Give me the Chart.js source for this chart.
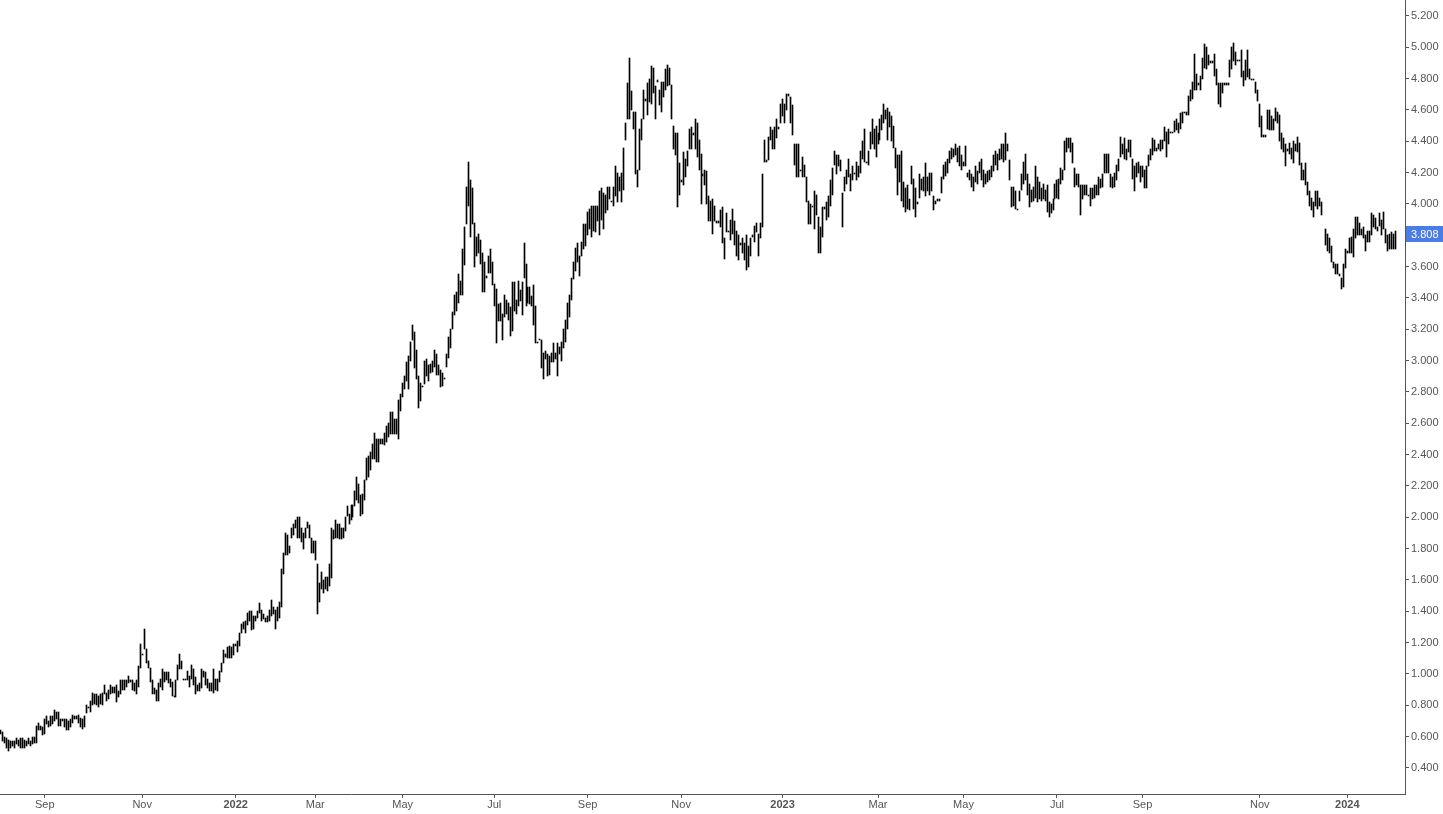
<!DOCTYPE html>
<html>
<head>
<meta charset="utf-8">
<script src="https://cdn.jsdelivr.net/npm/chart.js@4.4.0/dist/chart.umd.min.js"></script>
<style>
  html, body { margin: 0; padding: 0; background: #fff; }
  #wrap { width: 1443px; height: 814px; }
</style>
</head>
<body>
<div id="wrap"><canvas id="priceChart" width="1443" height="814"></canvas></div>
<script>
        // Daily [low, high] ranges, Aug 2021 - Feb 2024 (null = missing session)
        const priceRanges = [
            [0.62,0.64],[0.57,0.63],[0.56,0.60],[0.53,0.59],[0.51,0.58],[0.53,0.57],[0.54,0.57],[0.53,0.57],[0.55,0.59],[0.54,0.58],
            [0.53,0.59],[0.53,0.59],[0.53,0.58],[0.54,0.57],[0.55,0.59],[0.54,0.57],[0.55,0.60],[0.56,0.60],[0.56,0.67],[0.64,0.69],
            [0.64,0.67],[0.61,0.66],[0.62,0.71],[0.68,0.73],[0.66,0.70],[0.67,0.73],[0.68,0.73],[0.70,0.77],[0.71,0.76],[0.67,0.76],
            [0.67,0.71],[0.70,0.71],[0.66,0.71],[0.64,0.71],[0.64,0.70],[0.66,0.71],[0.69,0.74],[0.71,0.73],[0.71,0.73],[0.69,0.74],
            [0.66,0.72],[0.65,0.71],[0.66,0.73],[0.75,0.80],[0.78,0.79],[0.76,0.83],[0.80,0.88],[0.81,0.87],[0.80,0.87],[0.79,0.86],
            [0.81,0.87],[0.80,0.88],[0.87,0.93],[0.83,0.88],[0.84,0.90],[0.87,0.93],[0.88,0.92],[0.88,0.92],[0.82,0.93],[0.85,0.89],
            [0.87,0.96],[0.90,0.96],[0.90,0.96],[0.92,0.96],[0.94,0.99],[0.95,0.96],[0.90,0.96],[0.89,0.94],[0.87,0.96],[0.92,1.05],
            [1.04,1.19],[1.12,1.13],[1.16,1.29],[1.07,1.16],[1.04,1.08],[0.95,1.04],[0.87,0.96],[0.87,0.91],[0.83,0.90],[0.83,0.94],
            [0.92,0.97],[0.90,1.03],[0.95,1.01],[0.96,1.01],[0.94,1.01],[0.92,0.97],[0.86,0.95],[0.85,0.86],[0.85,0.96],[0.96,1.06],
            [1.03,1.13],[1.03,1.08],[0.96,0.97],[0.96,0.97],[0.96,1.02],[0.92,0.99],[0.97,1.06],[0.93,1.03],[0.87,0.98],[0.89,0.93],
            [0.89,0.94],[0.91,1.03],[0.98,1.02],[0.93,1.01],[0.91,0.97],[0.89,0.94],[0.89,0.94],[0.88,1.03],[0.90,0.97],[0.89,0.97],
            [0.95,1.02],[1.01,1.07],[1.07,1.15],[1.11,1.13],[1.10,1.17],[1.10,1.18],[1.10,1.17],[1.12,1.19],[1.18,1.19],[1.14,1.21],
            [1.18,1.26],[1.26,1.32],[1.29,1.33],[1.26,1.34],[1.31,1.39],[1.34,1.40],[1.28,1.40],[1.29,1.37],[1.34,1.37],[1.36,1.40],
            [1.39,1.45],[1.34,1.41],[1.35,1.38],[1.33,1.36],[1.33,1.37],[1.34,1.41],[1.37,1.47],[1.38,1.43],[1.29,1.41],[1.34,1.43],
            [1.36,1.46],
            [1.43,1.67],[1.64,1.77],[1.76,1.90],[1.76,1.89],[1.77,1.82],[1.87,1.93],[1.89,1.96],[1.93,1.98],[1.87,2.00],[1.87,2.00],
            [1.84,1.93],[1.80,1.90],[1.87,1.93],[1.93,1.97],[1.87,1.95],[1.77,1.87],[1.77,1.85],[1.73,1.85],[1.38,1.70],[1.46,1.58],
            [1.54,1.65],[1.52,1.60],[1.54,1.62],[1.53,1.62],[1.56,1.70],[1.61,1.93],[1.86,1.92],[1.87,1.98],[1.87,1.96],[1.86,1.96],
            [1.86,1.93],[1.87,1.93],[1.91,2.00],[2.01,2.07],[1.96,2.02],[1.98,2.08],[2.00,2.08],[2.07,2.17],[2.11,2.26],[2.09,2.21],
            [2.01,2.14],[2.02,2.15],[2.11,2.24],[2.24,2.38],[2.26,2.39],[2.30,2.42],[2.37,2.47],[2.37,2.54],[2.35,2.50],[2.35,2.50],
            [2.47,2.50],[2.47,2.50],[2.46,2.54],[2.48,2.58],[2.51,2.60],[2.53,2.67],[2.53,2.67],[2.53,2.63],[2.53,2.63],[2.50,2.75],
            [2.68,2.79],[2.77,2.86],[2.82,2.90],[2.87,2.99],[2.82,3.03],[3.00,3.12],[3.13,3.23],[2.95,3.18],[2.88,3.07],[2.70,2.90],
            [2.74,2.86],[2.83,2.84],[2.85,3.00],[2.90,3.01],[2.87,2.97],[2.92,2.98],[2.93,3.00],[2.96,3.07],[2.91,3.04],[2.91,2.97],
            [2.83,2.94],[2.84,2.92],[2.88,2.89],[2.96,3.04],[3.02,3.15],[3.08,3.20],[3.20,3.31],[3.29,3.42],[3.32,3.44],[3.37,3.55],
            [3.42,3.51],[3.42,3.71],[3.61,3.85],[3.87,4.11],[3.99,4.27],[3.79,4.15],[3.87,4.10],[3.60,3.88],[3.67,3.79],[3.69,3.81],
            [3.62,3.77],[3.44,3.69],[3.44,3.63],[3.53,3.54],[3.56,3.67],[3.56,3.71],[3.48,3.63],[3.35,3.49],[3.11,3.46],[3.25,3.36],
            [3.25,3.37],[3.13,3.30],[3.28,3.42],[3.30,3.39],[3.26,3.37],[3.16,3.34],[3.19,3.50],[3.32,3.50],[3.30,3.39],[3.35,3.51],
            [3.38,3.45],[3.29,3.50],[3.53,3.75],[3.35,3.62],[3.37,3.47],[3.36,3.47],[3.35,3.41],[3.23,3.48],[3.11,3.35],[3.11,3.12],
            [3.13,3.14],[2.95,3.13],[2.88,3.05],[3.01,3.06],[2.90,3.04],[2.91,3.03],[2.99,3.05],[2.99,3.11],[3.01,3.05],[2.90,3.11],
            [3.04,3.09],
            [3.00,3.12],[3.08,3.20],[3.12,3.26],[3.20,3.37],[3.28,3.42],
            [3.39,3.53],[3.52,3.63],[3.57,3.72],[3.63,3.75],[3.54,3.67],[3.67,3.76],[3.71,3.87],[3.73,3.87],[3.80,3.95],[3.84,3.97],
            [3.79,3.99],[3.83,3.99],[3.82,3.99],[3.89,3.99],[3.80,4.08],[3.90,4.10],[3.84,4.07],[3.94,4.06],[3.96,4.11],[4.03,4.11],
            [4.01,4.02],[3.99,4.11],[4.05,4.24],[4.01,4.20],[4.08,4.17],[4.01,4.20],[4.09,4.36],
            [4.41,4.52],[4.54,4.77],[4.54,4.93],[4.60,4.72],[4.48,4.59],[4.19,4.59],[4.11,4.22],[4.22,4.48],[4.41,4.54],[4.54,4.73],
            [4.66,4.67],[4.57,4.77],[4.65,4.80],[4.64,4.88],[4.71,4.87],[4.54,4.75],[4.78,4.79],[4.63,4.73],[4.59,4.78],[4.68,4.78],
            [4.73,4.86],[4.75,4.89],[4.76,4.87],[4.54,4.76],[4.35,4.50],[4.31,4.45],[3.98,4.45],[4.06,4.26],[4.14,4.15],[4.12,4.33],
            [4.17,4.29],[4.24,4.34],[4.35,4.48],[4.35,4.49],[4.44,4.45],[4.35,4.54],[4.30,4.52],[4.22,4.41],[4.00,4.32],
            [4.18,4.19],[4.12,4.22],[4.00,4.21],[3.89,4.05],[3.89,4.02],[3.81,4.03],[3.89,3.99],[3.88,3.89],[3.88,3.89],[3.85,3.96],
            [3.75,3.98],[3.65,3.78],[3.82,3.94],[3.82,3.83],[3.77,3.90],[3.81,3.97],[3.74,3.89],[3.67,3.83],[3.64,3.80],[3.74,3.75],
            [3.69,3.78],[3.64,3.75],[3.58,3.80],[3.60,3.73],[3.67,3.78],[3.79,3.80],[3.76,3.86],[3.82,3.88],[3.67,3.81],[3.78,3.88],
            [3.85,4.19],[4.27,4.41],[4.27,4.28],[4.28,4.43],[4.41,4.49],[4.35,4.47],[4.35,4.49],[4.42,4.54],[4.48,4.49],[4.52,4.64],
            [4.56,4.67],[4.52,4.64],[4.60,4.70],[4.69,4.70],[4.52,4.68],[4.44,4.63],[4.25,4.38],[4.17,4.38],[4.17,4.38],[4.21,4.22],
            [4.17,4.30],[4.17,4.25],[4.01,4.17],[3.87,4.02],[3.87,4.00],[3.98,3.99],[3.84,4.08],[3.93,4.06],[3.69,3.92],[3.69,3.85],
            [3.79,3.98],[3.97,3.98],[3.90,4.01],[3.92,4.05],[3.99,4.15],[4.06,4.23],[4.25,4.34],[4.19,4.31],[4.24,4.31],[4.21,4.28],
            [3.85,4.07],
            [4.08,4.17],[4.13,4.22],[4.17,4.29],[4.08,4.19],[4.15,4.24],[4.19,4.20],[4.15,4.27],[4.17,4.24],[4.20,4.34],[4.29,4.40],
            [4.27,4.48],[4.26,4.27],[4.25,4.34],[4.35,4.46],[4.38,4.54],[4.35,4.48],[4.30,4.50],[4.38,4.45],[4.41,4.54],[4.47,4.57],
            [4.52,4.64],[4.54,4.60],[4.41,4.61],[4.49,4.59],[4.40,4.56],[4.36,4.50],[4.23,4.36],[4.06,4.31],[4.14,4.31],[4.02,4.34],
            [3.98,4.14],[3.95,4.10],[3.97,4.12],[3.96,4.03],[4.13,4.24],[3.97,4.16],[3.92,4.10],[4.00,4.01],[4.04,4.19],[4.09,4.16],
            [4.08,4.17],[4.05,4.26],[4.08,4.17],[4.06,4.20],[4.08,4.20],[3.96,4.05],[4.00,4.02],[4.02,4.03],[4.02,4.03],[4.07,4.17],
            [4.16,4.25],[4.18,4.27],[4.20,4.29],[4.26,4.34],[4.29,4.36],[4.30,4.35],[4.31,4.38],[4.27,4.36],[4.24,4.37],[4.22,4.31],
            [4.24,4.27],[4.24,4.37],[4.17,4.20],[4.15,4.22],[4.11,4.19],[4.08,4.17],[4.14,4.24],[4.13,4.21],[4.20,4.27],[4.15,4.29],
            [4.11,4.22],[4.13,4.19],[4.14,4.21],[4.15,4.22],[4.17,4.24],[4.21,4.31],[4.25,4.34],[4.22,4.32],[4.28,4.35],[4.29,4.38],
            [4.27,4.38],[4.28,4.45],[4.34,4.38],[4.15,4.28],[3.98,4.11],[3.99,4.11],[3.97,4.08],[3.96,3.97],[4.02,4.08],[4.09,4.19],
            [4.13,4.27],[4.15,4.32],[4.06,4.19],[3.98,4.13],[4.01,4.09],[4.02,4.11],[4.04,4.24],[4.01,4.17],[4.03,4.14],[4.02,4.10],
            [4.03,4.13],[4.02,4.09],[3.95,4.12],[3.92,4.01],[3.94,4.00],[3.96,4.03],[4.03,4.13],[4.04,4.15],[4.03,4.16],[4.13,4.23],
            [4.15,4.22],[4.22,4.40],[4.33,4.42],[4.36,4.42],[4.33,4.42],[4.26,4.39],[4.11,4.23],[4.12,4.19],[4.11,4.19],[3.93,4.12],
            [4.03,4.12],[4.06,4.12],[4.06,4.12],[4.05,4.06],[3.99,4.10],[4.03,4.10],[4.04,4.12],[4.06,4.12],[4.06,4.17],[4.10,4.16],
            [4.11,4.19],[4.20,4.32],[4.20,4.32],[4.20,4.32],[4.11,4.19],[4.10,4.17],[4.11,4.20],[4.15,4.25],[4.21,4.29],[4.30,4.43],
            [4.32,4.38],[4.29,4.42],[4.28,4.35],[4.33,4.41],[4.30,4.41],[4.16,4.29],[4.08,4.24],[4.17,4.26],[4.20,4.27],[4.14,4.24],
            [4.17,4.24],[4.10,4.22],[4.10,4.24],[4.24,4.31],[4.28,4.35],[4.31,4.42],[4.34,4.41],[4.34,4.36],[4.35,4.38],[4.34,4.41],
            [4.35,4.41],[4.40,4.49],[4.30,4.46],[4.38,4.48],[4.45,4.46],[4.45,4.46],[4.46,4.53],[4.47,4.54],[4.45,4.52],[4.48,4.58],
            [4.52,4.59],[4.58,4.59],[4.57,4.59],[4.57,4.69],[4.66,4.73],[4.67,4.78],[4.73,4.96],[4.73,4.83],[4.76,4.77],[4.73,4.82],
            [4.80,4.93],[4.87,5.02],[4.86,5.00],[4.89,4.95],[4.90,4.91],[4.90,4.91],[4.82,4.96],[4.76,4.86],[4.64,4.77],[4.62,4.77],
            [4.71,4.77],[4.76,4.77],[4.76,4.77],[4.76,4.77],[4.81,4.92],[4.86,5.00],[4.91,5.03],[4.89,4.97],[4.91,4.92],[4.91,4.92],
            [4.81,4.98],[4.75,4.85],[4.79,4.92],[4.81,4.98],[4.80,4.86],[4.79,4.80],[4.79,4.80],[4.71,4.78],[4.66,4.73],[4.49,4.64],
            [4.43,4.56],[4.43,4.44],[4.43,4.44],[4.48,4.60],[4.47,4.60],[4.47,4.56],[4.47,4.54],[4.53,4.61],[4.52,4.59],[4.40,4.57],
            [4.35,4.45],[4.33,4.42],[4.24,4.38],[4.34,4.35],[4.32,4.39],[4.29,4.36],[4.26,4.40],[4.34,4.38],[4.33,4.43],[4.25,4.39],
            [4.15,4.26],[4.15,4.22],[4.12,4.26],[4.06,4.14],[3.99,4.08],[3.96,4.04],[3.92,4.01],[3.99,4.08],[3.97,4.08],[3.99,4.04],
            [3.93,4.01],null,[3.74,3.84],[3.70,3.81],[3.69,3.78],[3.63,3.73],[3.59,3.63],[3.55,3.62],[3.55,3.62],[3.54,3.55],
            [3.46,3.53],[3.47,3.62],[3.59,3.71],[3.69,3.70],[3.69,3.78],[3.69,3.79],[3.66,3.84],[3.78,3.92],[3.80,3.92],[3.80,3.88],
            [3.80,3.84],[3.78,3.85],[3.70,3.80],[3.76,3.83],[3.76,3.83],[3.80,3.94],[3.85,3.93],[3.84,3.91],[3.83,3.85],[3.86,3.94],
            [3.80,3.90],[3.84,3.95],[3.75,3.84],[3.70,3.80],[3.71,3.81],[3.71,3.82],[3.71,3.81],[3.71,3.83]
        ];

        const yTicks = [0.4, 0.6, 0.8, 1.0, 1.2, 1.4, 1.6, 1.8, 2.0, 2.2, 2.4, 2.6, 2.8, 3.0,
                        3.2, 3.4, 3.6, 3.8, 4.0, 4.2, 4.4, 4.6, 4.8, 5.0, 5.2];
        const monthTickIndex = [22, 71, 118, 158, 202, 248, 295, 342, 393, 441, 484, 531, 574, 633, 677];
        const monthTickText = ['Sep', 'Nov', '2022', 'Mar', 'May', 'Jul', 'Sep', 'Nov', '2023', 'Mar', 'May', 'Jul', 'Sep', 'Nov', '2024'];
        const lastPrice = 3.808;

        const FONT = '"Liberation Sans", Arial, sans-serif';
        const AXIS_COLOR = '#555';

        // Snap each 1px bar onto whole pixels so it stays crisp black
        const pixelSnap = {
            id: 'pixelSnap',
            beforeDatasetsDraw(chart) {
                chart.getDatasetMeta(0).data.forEach(bar => {
                    if (bar.skip || isNaN(bar.y)) return;
                    const top = Math.round(Math.min(bar.y, bar.base));
                    let bottom = Math.round(Math.max(bar.y, bar.base));
                    if (bottom - top < 1) bottom = top + 1;
                    bar.x = Math.floor(bar.x) + 0.5;
                    bar.y = top;
                    bar.base = bottom;
                });
            }
        };

        // Blue last-price tag on the right axis
        const lastPriceTag = {
            id: 'lastPriceTag',
            afterDraw(chart) {
                const { ctx, chartArea, scales } = chart;
                const y = Math.round(scales.y.getPixelForValue(lastPrice));
                ctx.save();
                ctx.fillStyle = '#4a7ce6';
                ctx.fillRect(chartArea.right + 1, y - 8, chart.width - chartArea.right - 1, 16);
                ctx.fillStyle = '#ffffff';
                ctx.font = '11px ' + FONT;
                ctx.textBaseline = 'middle';
                ctx.fillText(lastPrice.toFixed(3), chartArea.right + 6, y + 1);
                ctx.restore();
            }
        };

        function renderChart() {
            const ctx = document.getElementById('priceChart').getContext('2d');
            new Chart(ctx, {
                type: 'bar',
                data: {
                    datasets: [{
                        data: priceRanges.map((r, i) => ({ x: i, y: r })),
                        backgroundColor: '#000',
                        borderWidth: 0,
                        barThickness: 1,
                        grouped: false
                    }]
                },
                options: {
                    responsive: false,
                    animation: false,
                    layout: { padding: 0 },
                    plugins: { legend: { display: false }, tooltip: { enabled: false } },
                    scales: {
                        x: {
                            type: 'linear',
                            min: -0.5,
                            max: 706,
                            offset: false,
                            afterBuildTicks: s => { s.ticks = monthTickIndex.map(v => ({ value: v })); },
                            afterFit: s => { s.height = 20; s.paddingLeft = 0; s.paddingRight = 0; },
                            border: { display: true, color: AXIS_COLOR, width: 1 },
                            grid: { offset: false, drawOnChartArea: false, drawTicks: true, tickLength: 4, color: AXIS_COLOR },
                            ticks: {
                                autoSkip: false,
                                maxRotation: 0,
                                padding: 0,
                                color: AXIS_COLOR,
                                font: c => ({ family: FONT, size: 11, weight: /^\d{4}$/.test(c.tick && c.tick.label) ? 'bold' : 'normal' }),
                                callback: v => monthTickText[monthTickIndex.indexOf(v)]
                            }
                        },
                        y: {
                            position: 'right',
                            min: 0.234,
                            max: 5.302,
                            afterBuildTicks: s => { s.ticks = yTicks.map(v => ({ value: v })); },
                            afterFit: s => { s.width = 38; s.paddingTop = 0; s.paddingBottom = 0; },
                            border: { display: true, color: AXIS_COLOR, width: 1 },
                            grid: { drawOnChartArea: false, drawTicks: true, tickLength: 4, color: AXIS_COLOR },
                            ticks: {
                                padding: 2,
                                color: AXIS_COLOR,
                                font: { family: FONT, size: 11 },
                                callback: v => v.toFixed(3)
                            }
                        }
                    }
                },
                plugins: [pixelSnap, lastPriceTag]
            });
        }

        document.addEventListener('DOMContentLoaded', renderChart);
</script>
</body>
</html>
